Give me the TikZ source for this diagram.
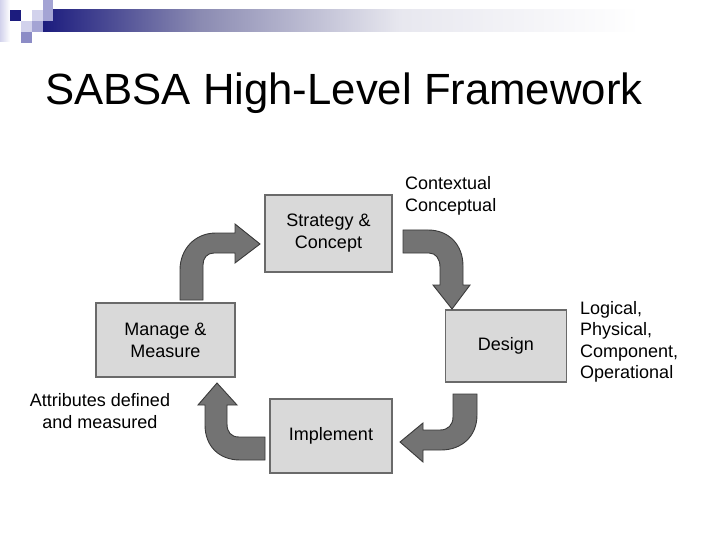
\documentclass[tikz,border=0pt]{standalone}
\usepackage{fontspec}
\setmainfont{Liberation Sans}
\definecolor{navy}{HTML}{1C1C7E}
\definecolor{boxfill}{HTML}{D9D9D9}
\definecolor{boxline}{HTML}{6A6A6A}
\definecolor{arrfill}{HTML}{737373}
\definecolor{arrline}{HTML}{3A3A3A}
\definecolor{lav1}{HTML}{D2D2EC}
\definecolor{lav2}{HTML}{A4A4D4}
\definecolor{lav3}{HTML}{8C8CC6}
\begin{document}
\begin{tikzpicture}[x=1pt,y=-1pt,
  stagebox/.style={draw=boxline,fill=boxfill,line width=1.4pt,align=center,
    font=\fontsize{18}{22}\selectfont,inner sep=0pt},
  sidelabel/.style={font=\fontsize{18}{21.5}\selectfont,inner sep=0pt},
  blockarrow/.style={fill=arrfill,draw=arrline,line width=0.9pt,line join=miter}]
\useasboundingbox (0,0) rectangle (720,540);
\fill[white] (0,0) rectangle (720,540);
% title bar
\shade[left color=lav1,right color=white] (0,0) rectangle (10,42);
\shade[left color=navy,right color=navy!50!white!80!gray] (43,10) rectangle (200,32);
\shade[left color=navy!50!white!80!gray,right color=navy!8!white!95!gray] (200,10) rectangle (400,32);
\shade[left color=navy!8!white!95!gray,right color=white] (400,10) rectangle (640,32);
\fill[navy] (10,10) rectangle (21,21);
\fill[lav2] (43,0) rectangle (53,10);
\fill[lav1] (32,10) rectangle (43,21);
\fill[lav2] (43,10) rectangle (53,21);
\fill[lav1] (21,21) rectangle (32,32);
\fill[lav2] (32,21) rectangle (43,32);
\fill[lav3] (21,32) rectangle (32,43);
\node[anchor=base west,inner sep=0pt,font=\fontsize{43.7}{50}\selectfont] (title) at (45,105) {SABSA High-Level Framework};
% boxes
\node[stagebox,minimum width=127pt,minimum height=77pt] (strat) at (328.5,233.5) {Strategy \&\\Concept};
\node[stagebox,minimum width=121pt,minimum height=72pt] (design) at (506,346) {Design};
\node[stagebox,minimum width=122pt,minimum height=74pt] (impl) at (331,436) {Implement};
\node[stagebox,minimum width=139pt,minimum height=74pt] (manage) at (165.5,340) {Manage \&\\Measure};
% labels
\node[sidelabel,anchor=west,align=left] (ctx) at (405,196) {Contextual\\Conceptual};
\node[sidelabel,anchor=west,align=left] (layers) at (580,342) {Logical,\\Physical,\\Component,\\Operational};
\node[sidelabel,align=center,font=\fontsize{18}{22}\selectfont] (attr) at (100,411) {Attributes defined\\and measured};
% arrow 1: manage -> strategy
\draw[blockarrow] (180,300) -- (180,270) .. controls (180,249) and (195,233) .. (216,233)
  -- (235,233) -- (235,224) -- (260,244) -- (235,263) -- (235,253) -- (214,253)
  .. controls (207,253) and (203,258) .. (203,265) -- (203,300) -- cycle;
% arrow 2: strategy -> design
\draw[blockarrow] (403,230) -- (428,230) .. controls (449,230) and (463,245) .. (463,266)
  -- (463,285) -- (470,285) -- (452,309) -- (433,285) -- (440,285) -- (440,267)
  .. controls (440,259) and (436,253) .. (429,253) -- (403,253) -- cycle;
% arrow 3: design -> implement
\draw[blockarrow] (453,394) -- (477,394) -- (477,415) .. controls (477,436) and (462,450) .. (441,450)
  -- (423,450) -- (423,462) -- (400,442) -- (423,423) -- (423,430) -- (440,430)
  .. controls (448,430) and (453,425) .. (453,417) -- cycle;
% arrow 4: implement -> manage
\draw[blockarrow] (217,383) -- (237,405) -- (227,405) -- (227,424)
  .. controls (227,432) and (231,437) .. (239,437) -- (265,437) -- (265,460) -- (240,460)
  .. controls (219,460) and (205,446) .. (205,425) -- (205,405) -- (198,405) -- cycle;
\end{tikzpicture}
\end{document}
